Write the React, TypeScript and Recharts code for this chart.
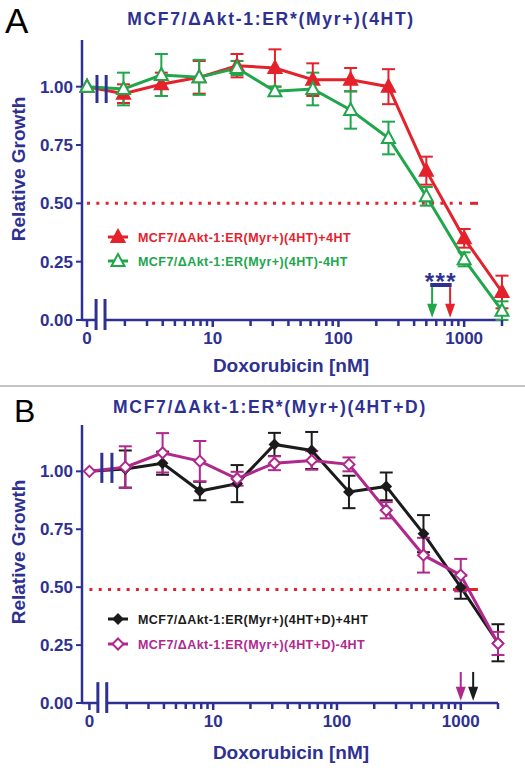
import React from 'react'
import { ComposedChart, Line, XAxis, YAxis, ErrorBar, ReferenceLine } from 'recharts'

const NAVY = '#2E3192'
const RED = '#E4222B'
const GREEN = '#20A64B'
const MAGENTA = '#B0288C'
const BLACK = '#1B1B1B'
const FONT = '"Liberation Sans", Arial, Helvetica, sans-serif'

// doxorubicin concentrations in nM (0 = untreated control)
const doses = [0, 1.95, 3.9, 7.8, 15.6, 31.25, 62.5, 125, 250, 500, 1000, 2000]
// the untreated point is drawn left of the axis break, at this spot of the log axis
const ZERO_AT = 1
const xTicks = [ZERO_AT, 2, 3, 4, 5, 6, 7, 8, 9, 10, 20, 30, 40, 50, 60, 70, 80, 90, 100, 200, 300, 400, 500, 600, 700, 800, 900, 1000, 2000]
const xLabels: Record<number, string> = { [ZERO_AT]: '0', 10: '10', 100: '100', 1000: '1000' }
const yTicks = [0, 0.25, 0.5, 0.75, 1]

// panel A: MCF7/ΔAkt-1:ER*(Myr+)(4HT)
const aPlus = [1.0, 0.97, 1.01, 1.04, 1.09, 1.08, 1.03, 1.03, 1.0, 0.64, 0.35, 0.12]
const aPlusErr = [0, 0.04, 0.05, 0.07, 0.05, 0.08, 0.07, 0.05, 0.075, 0.06, 0.04, 0.07]
const aMinus = [1.0, 0.99, 1.05, 1.04, 1.08, 0.98, 0.99, 0.9, 0.78, 0.53, 0.26, 0.04]
const aMinusErr = [0, 0.07, 0.09, 0.075, 0.03, 0.02, 0.07, 0.08, 0.07, 0.04, 0.03, 0.04]
const aArrows = [556, 773] // IC50 (nM): -4HT, +4HT
const aSigBar = [537, 795]

// panel B: MCF7/ΔAkt-1:ER*(Myr+)(4HT+D)
const bPlus = [1.0, 1.01, 1.035, 0.915, 0.947, 1.116, 1.09, 0.911, 0.935, 0.731, 0.5, 0.26]
const bPlusErr = [0, 0.08, 0.05, 0.04, 0.08, 0.05, 0.08, 0.07, 0.06, 0.08, 0.05, 0.08]
const bMinus = [1.0, 1.018, 1.08, 1.044, 0.968, 1.035, 1.047, 1.03, 0.832, 0.638, 0.552, 0.257]
const bMinusErr = [0, 0.09, 0.085, 0.087, 0.03, 0.03, 0.04, 0.03, 0.035, 0.075, 0.07, 0.05]
const bArrows = [1000, 1260] // IC50 (nM): -4HT, +4HT

type Series = {
  key: string
  name: string
  values: number[]
  errors: number[]
  color: string
  marker: 'triangle' | 'diamond'
  filled: boolean
}

const seriesA: Series[] = [
  { key: 'plus', name: 'MCF7/\u0394Akt-1:ER(Myr+)(4HT)+4HT', values: aPlus, errors: aPlusErr, color: RED, marker: 'triangle', filled: true },
  { key: 'minus', name: 'MCF7/\u0394Akt-1:ER(Myr+)(4HT)-4HT', values: aMinus, errors: aMinusErr, color: GREEN, marker: 'triangle', filled: false },
]
const seriesB: Series[] = [
  { key: 'plus', name: 'MCF7/\u0394Akt-1:ER(Myr+)(4HT+D)+4HT', values: bPlus, errors: bPlusErr, color: BLACK, marker: 'diamond', filled: true },
  { key: 'minus', name: 'MCF7/\u0394Akt-1:ER(Myr+)(4HT+D)-4HT', values: bMinus, errors: bMinusErr, color: MAGENTA, marker: 'diamond', filled: false },
]

function markerShape(s: Series, cx: number, cy: number, key?: string) {
  if (s.marker === 'triangle') {
    return (
      <path key={key} d={`M${cx},${cy - 7} L${cx + 6.5},${cy + 5} L${cx - 6.5},${cy + 5} Z`}
        fill={s.filled ? s.color : '#fff'} stroke={s.color} strokeWidth={2} strokeLinejoin="miter" />
    )
  }
  const r = s.filled ? 4.5 : 5.5
  return (
    <path key={key} d={`M${cx},${cy - r} L${cx + r},${cy} L${cx},${cy + r} L${cx - r},${cy} Z`}
      fill={s.filled ? s.color : '#fff'} stroke={s.color} strokeWidth={2} />
  )
}

// x ticks: longer marks with labels at 0, 10, 100, 1000; short marks elsewhere
const renderXTick = (props: any) => {
  const { x, y, payload } = props
  const label = xLabels[payload.value]
  return (
    <g>
      <rect x={x - 1.25} y={y} width={2.5} height={label ? 7 : 6} fill={NAVY} />
      {label && (
        <text x={x} y={y + 12} dy="0.71em" textAnchor="middle" fill={NAVY}
          style={{ fontSize: 17, fontWeight: 700, fontFamily: FONT }}>{label}</text>
      )}
    </g>
  )
}

const arrowShape = (color: string) => (p: any) => {
  const top = Math.min(p.y1, p.y2)
  const bot = Math.max(p.y1, p.y2)
  return (
    <g>
      <line x1={p.x1} x2={p.x1} y1={top} y2={bot - 10} stroke={color} strokeWidth={2} />
      <path d={`M${p.x1 - 5},${bot - 14} L${p.x1 + 5},${bot - 14} L${p.x1},${bot} Z`} fill={color} />
    </g>
  )
}

const sigShape = (p: any) => (
  <g>
    <line x1={p.x1} x2={p.x2} y1={p.y1} y2={p.y2} stroke={NAVY} strokeWidth={4} />
    <text x={(p.x1 + p.x2) / 2} y={p.y1 + 5} textAnchor="middle" fill={NAVY}
      style={{ fontSize: 24, fontWeight: 700, fontFamily: FONT, letterSpacing: 1.5 }}>***</text>
  </g>
)

type PanelProps = {
  series: Series[]
  xMin: number
  height: number
  top: number
  right: number
  axisHeight: number
  half: number
  halfDotsEnd: number
  halfDash: number[]
  axisBreak: number[]
  dataBreak: number[]
  dataBreakY: number[]
  arrows: number[]
  arrowTop: number
  sigBar?: number[]
}

function DosePanel(p: PanelProps) {
  const rows = doses.map((d, i) => {
    const row: Record<string, number | undefined> = { dose: d === 0 ? ZERO_AT : d }
    p.series.forEach((s) => {
      row[s.key] = s.values[i]
      row[s.key + 'Err'] = s.errors[i] > 0 ? s.errors[i] : undefined
    })
    return row
  })
  const arrowColors = [p.series[1].color, p.series[0].color]
  return (
    <ComposedChart width={525} height={p.height} data={rows} margin={{ top: p.top, right: p.right, bottom: 0, left: 0 }}>
      <XAxis dataKey="dose" type="number" scale="log" domain={[p.xMin, 2000]} ticks={xTicks} interval={0}
        tick={renderXTick} tickSize={0} tickMargin={0} tickLine={false} axisLine={false} height={p.axisHeight} />
      <YAxis type="number" domain={[0, 1.2]} ticks={yTicks} tickFormatter={(v: number) => v.toFixed(2)} width={82}
        tick={{ fill: NAVY, fontSize: 17, fontWeight: 700, fontFamily: FONT }}
        tickLine={{ stroke: NAVY, strokeWidth: 2 }} tickSize={6} tickMargin={3}
        axisLine={{ stroke: NAVY, strokeWidth: 2.5 }} />

      {/* x axis line with a gap for the break */}
      <ReferenceLine segment={[{ x: p.xMin, y: 0 }, { x: p.axisBreak[0], y: 0 }]} stroke={NAVY} strokeWidth={2.5} ifOverflow="visible" />
      <ReferenceLine segment={[{ x: p.axisBreak[1], y: 0 }, { x: 2000, y: 0 }]} stroke={NAVY} strokeWidth={2.5} ifOverflow="visible" />
      {p.axisBreak.map((b) => (
        <ReferenceLine key={'ab' + b} segment={[{ x: b, y: 0.09 }, { x: b, y: -0.043 }]} stroke={NAVY} strokeWidth={3} ifOverflow="visible" />
      ))}

      {/* 50% growth */}
      <ReferenceLine segment={[{ x: ZERO_AT, y: p.half }, { x: p.halfDotsEnd, y: p.half }]} stroke={RED} strokeWidth={3} strokeDasharray="3 6.3" ifOverflow="visible" />
      <ReferenceLine segment={[{ x: p.halfDash[0], y: p.half }, { x: p.halfDash[1], y: p.half }]} stroke={RED} strokeWidth={3} ifOverflow="visible" />

      {p.series.map((s) => (
        <Line key={s.key} dataKey={s.key} stroke={s.color} strokeWidth={3} isAnimationActive={false} activeDot={false}
          legendType="none"
          dot={(d: any) => markerShape(s, d.cx, d.cy, `${s.key}-${d.index}`)}>
          <ErrorBar dataKey={s.key + 'Err'} direction="y" width={6.5} stroke={s.color} strokeWidth={2} isAnimationActive={false} />
        </Line>
      ))}

      {p.dataBreak.map((b) => (
        <ReferenceLine key={'db' + b} segment={[{ x: b, y: p.dataBreakY[0] }, { x: b, y: p.dataBreakY[1] }]} stroke={NAVY} strokeWidth={3} ifOverflow="visible" />
      ))}

      {p.arrows.map((a, i) => (
        <ReferenceLine key={'ar' + a} segment={[{ x: a, y: p.arrowTop }, { x: a, y: 0.01 }]} ifOverflow="visible"
          shape={arrowShape(arrowColors[i])} />
      ))}
      {p.sigBar && (
        <ReferenceLine segment={[{ x: p.sigBar[0], y: 0.15 }, { x: p.sigBar[1], y: 0.15 }]} ifOverflow="visible" shape={sigShape} />
      )}
    </ComposedChart>
  )
}

function LegendRows({ series, x, ys }: { series: Series[]; x: number; ys: number[] }) {
  return (
    <g>
      {series.map((s, i) => (
        <g key={s.key}>
          <line x1={x} x2={x + 20} y1={ys[i]} y2={ys[i]} stroke={s.color} strokeWidth={3} />
          {markerShape(s, x + 10, ys[i])}
          <text x={x + 30} y={ys[i] + 4.5} fill={s.color}
            style={{ fontSize: 12.5, fontWeight: 700, fontFamily: FONT, letterSpacing: 0.45 }}>{s.name}</text>
        </g>
      ))}
    </g>
  )
}

const titleStyle = { fontSize: 17.5, fontWeight: 700, fontFamily: FONT, letterSpacing: 1.7 }
const axisTitleStyle = { fontSize: 19, fontWeight: 700, fontFamily: FONT }

export default function App() {
  return (
    <div style={{ position: 'absolute', left: 0, top: 0, width: 525, height: 774, background: '#fff' }}>
      <div style={{ position: 'absolute', left: 0, top: 0 }}>
        <DosePanel series={seriesA} xMin={0.912} height={386} top={40} right={23} axisHeight={66}
          half={0.5} halfDotsEnd={1000} halfDash={[1114, 1288]} axisBreak={[1.18, 1.39]}
          dataBreak={[1.2, 1.42]} dataBreakY={[0.93, 1.05]} arrows={aArrows} arrowTop={0.141} sigBar={aSigBar} />
      </div>
      <div style={{ position: 'absolute', left: 0, top: 388 }}>
        <DosePanel series={seriesB} xMin={0.871} height={386} top={37} right={27} axisHeight={71}
          half={0.49} halfDotsEnd={820} halfDash={[865, 1377]} axisBreak={[1.17, 1.38]}
          dataBreak={[1.26, 1.52]} dataBreakY={[0.95, 1.08]} arrows={bArrows} arrowTop={0.134} />
      </div>
      <svg width={525} height={774} style={{ position: 'absolute', left: 0, top: 0, pointerEvents: 'none' }}>
        <rect x={0} y={385} width={525} height={2} fill="#C4C4C4" />

        <text x={5} y={33} fill="#000" style={{ fontSize: 35, fontFamily: FONT }}>A</text>
        <text x={271} y={25} textAnchor="middle" fill={NAVY} style={titleStyle}>MCF7/{'\u0394'}Akt-1:ER*(Myr+)(4HT)</text>
        <text transform="translate(25,169) rotate(-90)" textAnchor="middle" fill={NAVY} style={axisTitleStyle}>Relative Growth</text>
        <text x={291} y={372} textAnchor="middle" fill={NAVY} style={axisTitleStyle}>Doxorubicin [nM]</text>
        <LegendRows series={seriesA} x={108} ys={[237, 261]} />

        <text x={14} y={422} fill="#000" style={{ fontSize: 32, fontFamily: FONT }}>B</text>
        <text x={270} y={413} textAnchor="middle" fill={NAVY} style={titleStyle}>MCF7/{'\u0394'}Akt-1:ER*(Myr+)(4HT+D)</text>
        <text transform="translate(25,552) rotate(-90)" textAnchor="middle" fill={NAVY} style={axisTitleStyle}>Relative Growth</text>
        <text x={291} y={759} textAnchor="middle" fill={NAVY} style={axisTitleStyle}>Doxorubicin [nM]</text>
        <LegendRows series={seriesB} x={108} ys={[619, 644]} />
      </svg>
    </div>
  )
}
